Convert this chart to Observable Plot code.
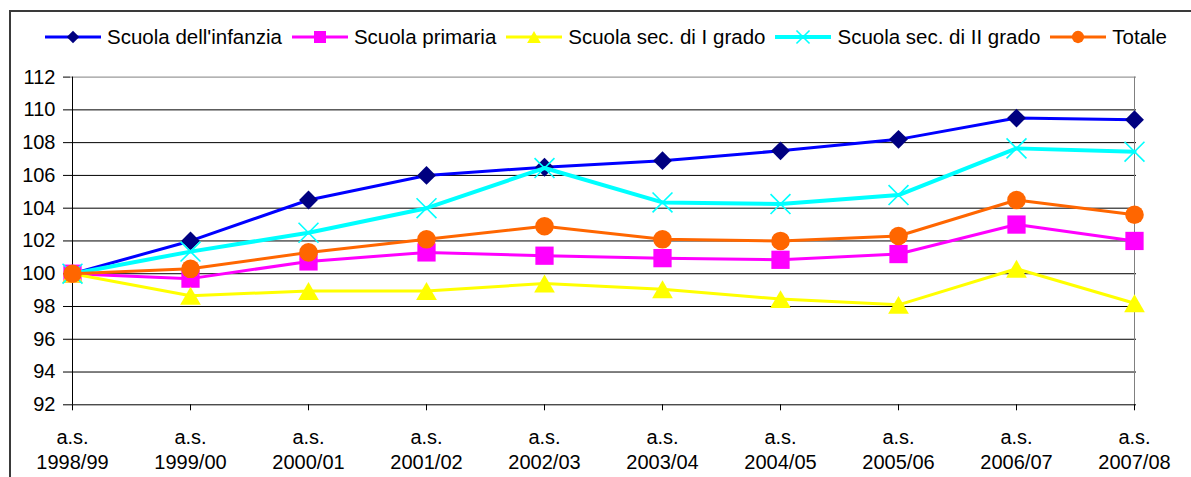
<!DOCTYPE html>
<html><head><meta charset="utf-8">
<script src="https://cdn.jsdelivr.net/npm/d3@7"></script>
<script src="https://cdn.jsdelivr.net/npm/@observablehq/plot@0.6"></script>
<style>
html,body{margin:0;padding:0;background:#fff;overflow:hidden;}
body{width:1191px;height:477px;position:relative;font-family:Arial,"Liberation Sans",sans-serif;}
#frame{position:absolute;left:9px;top:10px;width:1400px;height:700px;border:2px solid #3a3a3a;pointer-events:none;}
#legend{position:absolute;left:45px;top:26px;height:22px;display:flex;gap:10px;align-items:center;font-size:20.5px;color:#000;white-space:nowrap;}
#legend .item{display:flex;align-items:center;gap:6px;}
#legend svg{display:block;overflow:visible;}
#chart{position:absolute;left:0;top:56px;}
</style></head><body>
<div id="frame"></div>
<div id="legend"></div>
<div id="chart"></div>
<script>
// ---- data ----
const years = ["1998/99","1999/00","2000/01","2001/02","2002/03","2003/04","2004/05","2005/06","2006/07","2007/08"];
const tickPrefix = "a.s.";
const seriesNames = ["Scuola dell'infanzia","Scuola primaria","Scuola sec. di I grado","Scuola sec. di II grado","Totale"];
const infanzia  = [100, 102.0, 104.5, 106.0, 106.5, 106.9, 107.5, 108.2, 109.5, 109.4];
const primaria  = [100, 99.7, 100.75, 101.3, 101.1, 100.95, 100.85, 101.2, 103.0, 102.0];
const secI      = [100, 98.65, 98.95, 98.95, 99.4, 99.05, 98.45, 98.1, 100.3, 98.2];
const secII     = [100, 101.35, 102.5, 104.0, 106.45, 104.35, 104.25, 104.8, 107.65, 107.45];
const totale    = [100, 100.3, 101.3, 102.1, 102.9, 102.1, 102.0, 102.3, 104.5, 103.6];
const yTicks = [92, 94, 96, 98, 100, 102, 104, 106, 108, 110, 112];

// ---- styles ----
const styles = [
  {line:"#0000FF", width:3, symbol:"diamond2", r:8.5, fill:"#000080", stroke:"none", sw:0, dy:0},
  {line:"#FF00FF", width:3, symbol:"square",   r:10.3, fill:"#FF00FF", stroke:"none", sw:0, dy:0},
  {line:"#FFFF00", width:3, symbol:"triangle", r:7.7, fill:"#FFFF00", stroke:"none", sw:0, dy:3},
  {line:"#00FFFF", width:4, symbol:"times",    r:9.1, fill:"none", stroke:"#00FFFF", sw:1.6, dy:0},
  {line:"#FF6600", width:3, symbol:"circle",   r:9.3, fill:"#FF6600", stroke:"none", sw:0, dy:0}
];
const d3Symbols = {diamond2:d3.symbolDiamond2, square:d3.symbolSquare, triangle:d3.symbolTriangle, times:d3.symbolTimes, circle:d3.symbolCircle};

const valuesList = [infanzia, primaria, secI, secII, totale];
const table = [];
valuesList.forEach((vals, i) => vals.forEach((v, j) => table.push({series: seriesNames[i], year: years[j], value: v})));

// ---- legend ----
const legend = d3.select("#legend");
seriesNames.forEach((name, i) => {
  const s = styles[i];
  const item = legend.append("div").attr("class", "item");
  const svg = item.append("svg").attr("width", 56).attr("height", 20);
  svg.append("line").attr("x1", 0).attr("x2", 56).attr("y1", 10).attr("y2", 10)
    .attr("stroke", s.line).attr("stroke-width", s.width);
  const rr = s.r * 0.66;
  svg.append("path")
    .attr("d", d3.symbol(d3Symbols[s.symbol], Math.PI * rr * rr)())
    .attr("transform", `translate(28,${10 + s.dy * 0.66})`)
    .attr("fill", s.fill).attr("stroke", s.stroke).attr("stroke-width", s.sw);
  item.append("span").text(name);
});

// ---- chart ----
const marks = [
  Plot.ruleY(yTicks.filter(t => t > 92 && t < 112), {stroke: "#000", strokeWidth: 1}),
  Plot.ruleY([112], {stroke: "#808080", strokeWidth: 1}),
  Plot.ruleX([years[years.length - 1]], {stroke: "#808080", strokeWidth: 1}),
  Plot.axisY({ticks: yTicks, tickSize: 7, tickPadding: 8, label: null, tickFormat: d => String(d)}),
  Plot.axisX({tickSize: 6, tickPadding: 16, label: null, lineHeight: 1.22, lineAnchor: "top",
              tickFormat: d => tickPrefix + "\n" + d}),
  Plot.ruleX([years[0]], {stroke: "#000", strokeWidth: 1}),
  Plot.ruleY([92], {stroke: "#000", strokeWidth: 1})
];
seriesNames.forEach((name, i) => {
  const s = styles[i];
  const data = table.filter(d => d.series === name);
  marks.push(Plot.line(data, {x: "year", y: "value", stroke: s.line, strokeWidth: s.width}));
  marks.push(Plot.dot(data, {x: "year", y: "value", symbol: s.symbol, r: s.r, fill: s.fill,
    stroke: s.stroke, strokeWidth: s.sw, dy: s.dy}));
});

const chart = Plot.plot({
  width: 1191,
  height: 421,
  marginTop: 20.6,
  marginBottom: 72.7,
  marginLeft: 70,
  marginRight: 55,
  style: {fontSize: "20px", fontFamily: "Arial, 'Liberation Sans', sans-serif", color: "#000", background: "transparent", overflow: "visible"},
  x: {type: "point", domain: years, padding: 0},
  y: {domain: [92, 112], nice: false},
  marks
});
document.getElementById("chart").append(chart);
</script>
</body></html>
